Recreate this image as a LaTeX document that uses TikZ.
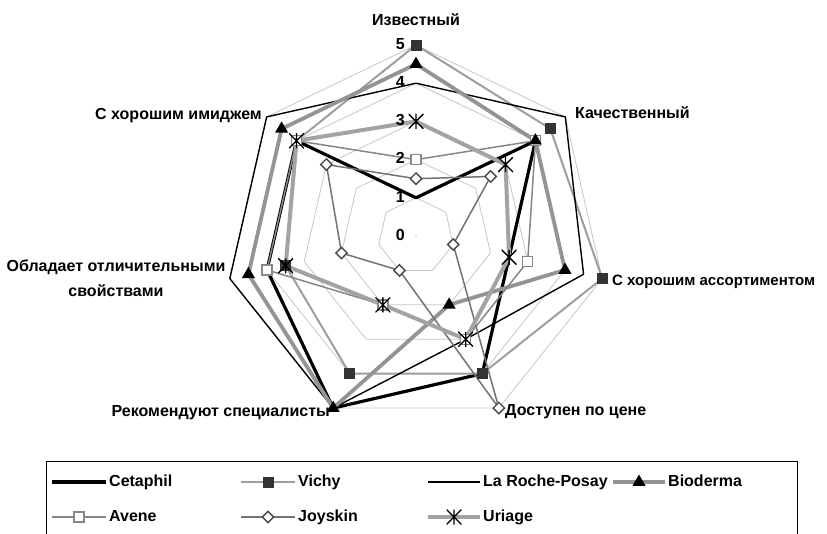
\documentclass[tikz,border=0pt]{standalone}
\usepackage{fontspec}
\setmainfont{Liberation Sans}
\usetikzlibrary{shapes.geometric,calc}
\newcommand\defseries[2]{\foreach \v [count=\k from 0] in {#2} {\coordinate (#1\k) at ({51.4286*\k-90}:{38.2*\v});}}
\newcommand\drawseries[2]{\draw[#2] (#10) -- (#11) -- (#12) -- (#13) -- (#14) -- (#15) -- (#16) -- cycle;}
\newcommand\markseries[2]{\foreach \k in {0,...,6}{\node[#2] (#1m\k) at (#1\k) {};}}
\tikzset{
  gridline/.style={draw=black!22, line width=0.8pt},
  lab/.style={font=\fontsize{16}{18}\selectfont\bfseries, inner sep=0pt},
  fixh/.style={text height=11.8pt, text depth=3.4pt},
  cetline/.style={draw=black, line width=3.2pt, line join=round},
  vicline/.style={draw=black!38, line width=2pt, line join=round},
  lrpline/.style={draw=black, line width=1.4pt, line join=round},
  bioline/.style={draw=black!42, line width=3.8pt, line join=round},
  aveline/.style={draw=black!47, line width=1.5pt, line join=round},
  joyline/.style={draw=black!55, line width=1.5pt, line join=round},
  uriline/.style={draw=black!36, line width=4pt, line join=round},
  vicmark/.style={rectangle, fill=black!80, minimum size=11pt, inner sep=0pt},
  biomark/.style={regular polygon, regular polygon sides=3, fill=black, minimum size=15pt, inner sep=0pt},
  avemark/.style={rectangle, draw=black!47, fill=white, line width=1.4pt, minimum size=10pt, inner sep=0pt},
  joymark/.style={diamond, draw=black!72, fill=white, line width=1.4pt, minimum size=12pt, inner sep=0pt},
  urimark/.style={rectangle, minimum size=15pt, inner sep=0pt,
    path picture={\draw[black, line width=1.3pt]
      (path picture bounding box.north) -- (path picture bounding box.south)
      (path picture bounding box.north west) -- (path picture bounding box.south east)
      (path picture bounding box.north east) -- (path picture bounding box.south west);}},
}
\begin{document}
\begin{tikzpicture}[x=1pt,y=-1pt]
\useasboundingbox (0,0) rectangle (827,533);
\fill[white] (0,0) rectangle (827,533);
\begin{scope}[shift={(416,236)}]
  % grid rings
  \foreach \r in {1,...,5}{
    \draw[gridline] (-90:{38.2*\r}) \foreach \k in {1,...,6}{ -- ({51.4286*\k-90}:{38.2*\r}) } -- cycle;
  }
  \coordinate (ctr) at (0,0);
  \fill[black!40] (ctr) circle (0.7pt);
  % data
  \defseries{cet}{1,4,2.5,4,5,4,4}
  \defseries{vic}{5,4.5,5,4,4,3.5,4}
  \defseries{lrp}{4,5,4.5,3,5,5,5}
  \defseries{bio}{4.5,4,4,2,5,4.5,4.5}
  \defseries{ave}{2,4,3,3,2,4,4}
  \defseries{joy}{1.5,2.5,1,5,1,2,3}
  \defseries{uri}{3,3,2.5,3,2,3.5,4}
  \drawseries{cet}{cetline}
  \drawseries{vic}{vicline}
  \drawseries{lrp}{lrpline}
  \drawseries{bio}{bioline}
  \drawseries{ave}{aveline}
  \drawseries{joy}{joyline}
  \drawseries{uri}{uriline}
  \markseries{vic}{vicmark}
  \markseries{ave}{avemark}
  \markseries{joy}{joymark}
  \markseries{bio}{biomark}
  \markseries{uri}{urimark}
\end{scope}
% value labels
\foreach \v in {0,...,5}{
  \node[lab, fixh, anchor=east] (val\v) at (405,{236-38.2*\v}) {\v};
}
% category labels
\node[lab, fixh] (c0) at (416,21) {Известный};
\node[lab, fixh, anchor=west] (c1) at (575,114) {Качественный};
\node[lab, fixh, anchor=west, font=\fontsize{15}{18}\selectfont\bfseries] (c2) at (612,281) {С хорошим ассортиментом};
\node[lab, fixh, anchor=west] (c3) at (505,411) {Доступен по цене};
\node[lab, fixh, anchor=east] (c4) at (330,412) {Рекомендуют специалисты};
\node[lab, align=center, font=\fontsize{16}{25}\selectfont\bfseries] (c5) at (116,278) {Обладает отличительными\\свойствами};
\node[lab, fixh, anchor=east] (c6) at (262,115) {С хорошим имиджем};
% legend
\draw[black, line width=1pt] (46,461) rectangle (797,560);
\coordinate (l1a) at (52,482);  \coordinate (l1b) at (106,482);
\coordinate (l2a) at (241,482); \coordinate (l2b) at (295,482);
\coordinate (l3a) at (428,482); \coordinate (l3b) at (480,482);
\coordinate (l4a) at (613,482); \coordinate (l4b) at (665,482);
\coordinate (l5a) at (52,517);  \coordinate (l5b) at (106,517);
\coordinate (l6a) at (241,517); \coordinate (l6b) at (295,517);
\coordinate (l7a) at (428,517); \coordinate (l7b) at (480,517);
\draw[cetline] (l1a) -- (l1b);
\draw[vicline] (l2a) -- (l2b);
\draw[lrpline] (l3a) -- (l3b);
\draw[bioline] (l4a) -- (l4b);
\draw[aveline] (l5a) -- (l5b);
\draw[joyline] (l6a) -- (l6b);
\draw[uriline] (l7a) -- (l7b);
\node[vicmark] (lm2) at ($(l2a)!0.5!(l2b)$) {};
\node[biomark] (lm4) at ($(l4a)!0.5!(l4b)$) {};
\node[avemark] (lm5) at ($(l5a)!0.5!(l5b)$) {};
\node[joymark] (lm6) at ($(l6a)!0.5!(l6b)$) {};
\node[urimark] (lm7) at ($(l7a)!0.5!(l7b)$) {};
\node[lab, fixh, anchor=west] (lt1) at ($(l1b)+(3,0)$) {Cetaphil};
\node[lab, fixh, anchor=west] (lt2) at ($(l2b)+(3,0)$) {Vichy};
\node[lab, fixh, anchor=west] (lt3) at ($(l3b)+(3,0)$) {La Roche-Posay};
\node[lab, fixh, anchor=west] (lt4) at ($(l4b)+(3,0)$) {Bioderma};
\node[lab, fixh, anchor=west] (lt5) at ($(l5b)+(3,0)$) {Avene};
\node[lab, fixh, anchor=west] (lt6) at ($(l6b)+(3,0)$) {Joyskin};
\node[lab, fixh, anchor=west] (lt7) at ($(l7b)+(3,0)$) {Uriage};
\end{tikzpicture}
\end{document}
